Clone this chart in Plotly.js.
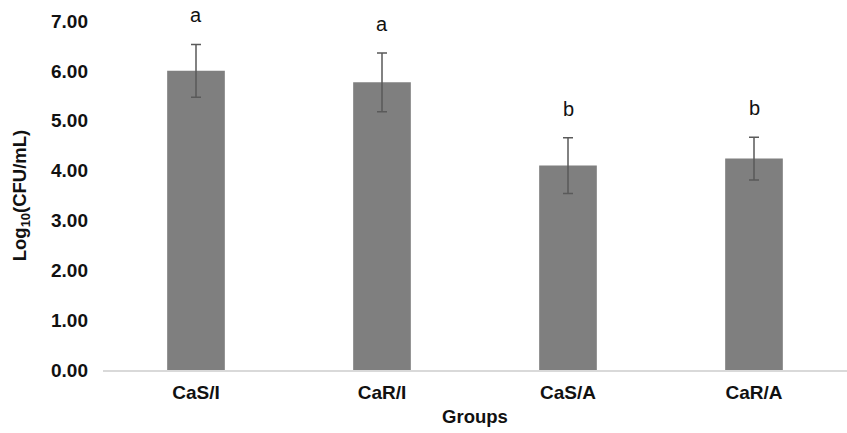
<!DOCTYPE html>
<html><head><meta charset="utf-8">
<script src="https://cdn.plot.ly/plotly-3.0.1.min.js"></script>
<style>html,body{margin:0;padding:0;background:#fff}</style>
</head><body><div id="chart" style="width:847px;height:433px"></div>
<script>
var groups = ["CaS/I", "CaR/I", "CaS/A", "CaR/A"];
var means = [6.00, 5.77, 4.10, 4.24];
var errors = [0.53, 0.59, 0.56, 0.43];
var letters = ["a", "a", "b", "b"];
var yTicks = [0, 1, 2, 3, 4, 5, 6, 7];
var yTickText = ["0.00", "1.00", "2.00", "3.00", "4.00", "5.00", "6.00", "7.00"];

var trace = {
  type: "bar", x: groups, y: means, width: 0.31,
  marker: {color: "#7f7f7f", line: {width: 0}},
  error_y: {type: "data", array: errors, visible: true, color: "#5a5a5a", thickness: 1.5, width: 5}
};
var annotations = groups.map(function(g, i){
  return {x: g, y: means[i] + errors[i], text: letters[i], showarrow: false,
    xref: "x", yref: "y", yanchor: "bottom", yshift: 16,
    font: {family: "Liberation Sans, Arial, sans-serif", size: 20, color: "#111"}};
});
var layout = {
  width: 847, height: 433,
  margin: {l: 103, r: 0, t: 21, b: 63},
  paper_bgcolor: "#fff", plot_bgcolor: "#fff",
  showlegend: false,
  font: {family: "Liberation Sans, Arial, sans-serif", color: "#111"},
  xaxis: {
    showline: true, linecolor: "#d9d9d9", linewidth: 1.5, ticks: "", showgrid: false,
    tickfont: {size: 19, weight: "bold", color: "#111"},
    ticklabelstandoff: 5,
    title: {text: "<b>Groups</b>", font: {size: 18.5, color: "#111"}, standoff: 8}
  },
  yaxis: {
    range: [0, 7], tickvals: yTicks, ticktext: yTickText, showgrid: false, zeroline: false,
    showline: false, ticks: "", ticklabelstandoff: 14,
    tickfont: {size: 19, weight: "bold", color: "#111"},
    title: {text: "<b>Log<sub>10</sub>(CFU/mL)</b>", font: {size: 18.5, color: "#111"}, standoff: 19}
  },
  annotations: annotations
};
Plotly.newPlot("chart", [trace], layout, {displayModeBar: false, staticPlot: true});
</script></body></html>
